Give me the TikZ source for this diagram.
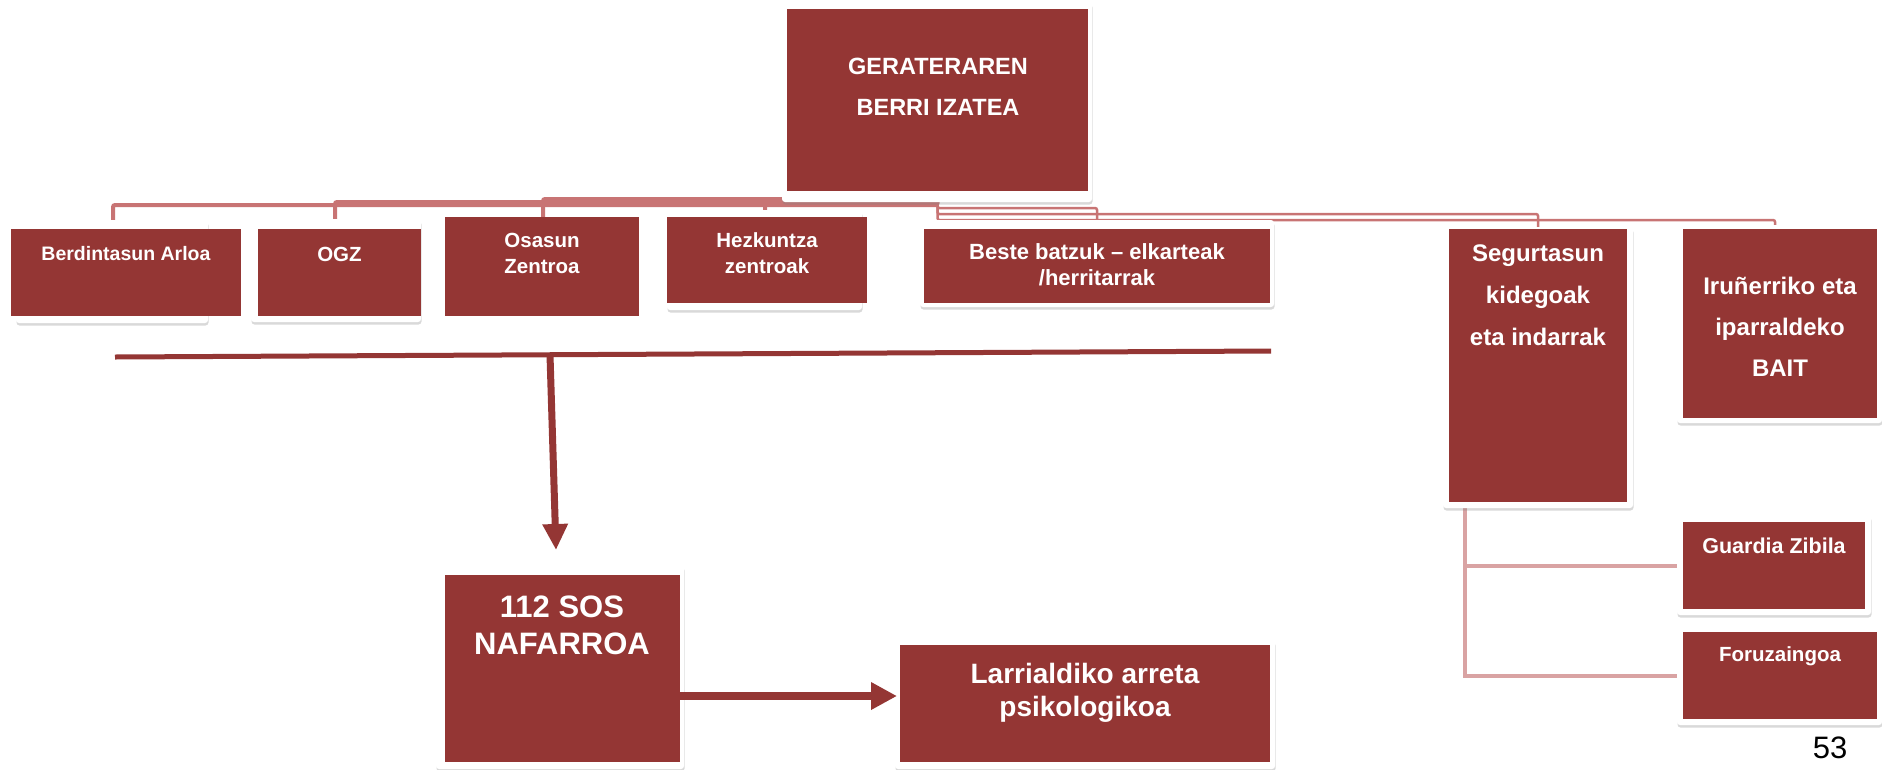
\documentclass[tikz,border=0pt]{standalone}
\usepackage{fontspec}
\setmainfont{Liberation Sans}
\usetikzlibrary{arrows.meta,shadows,calc}
\definecolor{boxred}{HTML}{943634}
\definecolor{connpink}{HTML}{C87474}
\definecolor{connlight}{HTML}{D9A3A3}
\pgfdeclarelayer{connlayer}
\pgfdeclarelayer{framelayer}
\pgfsetlayers{connlayer,framelayer,main}
\begin{document}
\begin{tikzpicture}[x=1pt,y=-1pt,
  redbox/.style={fill=boxred, draw=none, inner sep=0pt, outer sep=0pt},
  framebox/.style={fill=white, rounded corners=3pt, drop shadow={opacity=0.3,shadow xshift=0.5pt,shadow yshift=-2.5pt}},
  lbl/.style={text=white, font=\bfseries\fontsize{20.5}{26}\selectfont, align=center, inner sep=0pt},
  lblbig/.style={text=white, font=\bfseries\fontsize{24}{42}\selectfont, align=center, inner sep=0pt},
  conn/.style={draw=connpink, line width=4pt, rounded corners=2pt},
  connthin/.style={draw=connpink, line width=2.5pt, rounded corners=2pt},
  conntwo/.style={draw=connlight, line width=4pt},
  bigline/.style={draw=boxred, line width=5pt},
  arr/.style={draw=boxred, line width=7pt, -{Triangle[width=24pt,length=26pt]}}
]
\useasboundingbox (0,0) rectangle (1882,769);

% frames (white shadowed backgrounds)
\begin{pgfonlayer}{framelayer}
\path[framebox] (782,2) rectangle (1092,202);
\path[framebox] (16,220) rectangle (208,323);
\path[framebox] (251,219) rectangle (421,322);
\path[framebox] (667,210) rectangle (862,310);
\path[framebox] (920,220) rectangle (1274,307);
\path[framebox] (1443,227) rectangle (1633,508);
\path[framebox] (1677,225) rectangle (1882,423);
\path[framebox] (1677,515) rectangle (1871,615);
\path[framebox] (1677,625) rectangle (1882,725);
\path[framebox] (436,565) rectangle (684,769);
\path[framebox] (895,640) rectangle (1275,769);
\end{pgfonlayer}

% boxes
\node[redbox, minimum width=301pt, minimum height=182pt] (top) at (937.5,100) {};
\node[redbox, minimum width=230pt, minimum height=87pt] (berd) at (126,272.5) {};
\node[redbox, minimum width=163pt, minimum height=87pt] (ogz) at (339.5,272.5) {};
\node[redbox, minimum width=194pt, minimum height=99pt] (osa) at (542,266.5) {};
\node[redbox, minimum width=200pt, minimum height=86pt] (hez) at (767,260) {};
\node[redbox, minimum width=346pt, minimum height=74pt] (beste) at (1097,266) {};
\node[redbox, minimum width=178pt, minimum height=273pt] (seg) at (1538,365.5) {};
\node[redbox, minimum width=194pt, minimum height=189pt] (iru) at (1780,323.5) {};
\node[redbox, minimum width=182pt, minimum height=87pt] (guard) at (1774,565.5) {};
\node[redbox, minimum width=194pt, minimum height=87pt] (foru) at (1780,675.5) {};
\node[redbox, minimum width=235pt, minimum height=187pt] (sos) at (562.5,668.5) {};
\node[redbox, minimum width=370pt, minimum height=117pt] (larr) at (1085,703.5) {};

% labels
\node[lbl, font=\bfseries\fontsize{23.5}{41}\selectfont] (ttop) at (938,87) {GERATERAREN\\BERRI IZATEA};
\node[lbl, font=\bfseries\fontsize{19.5}{26}\selectfont] (tberd) at (126,254) {Berdintasun Arloa};
\node[lbl] (togz) at (339.5,254) {OGZ};
\node[lbl] (tosa) at (542,253) {Osasun\\Zentroa};
\node[lbl] (thez) at (767,253) {Hezkuntza\\zentroak};
\node[lbl, font=\bfseries\fontsize{22}{26}\selectfont] (tbeste) at (1097,265) {Beste batzuk – elkarteak\\/herritarrak};
\node[lblbig] (tseg) at (1538,295) {Segurtasun\\kidegoak\\eta indarrak};
\node[lblbig, font=\bfseries\fontsize{24}{41}\selectfont] (tiru) at (1780,327) {Iruñerriko eta\\iparraldeko\\BAIT};
\node[lbl, font=\bfseries\fontsize{21.5}{26}\selectfont] (tguard) at (1774,546) {Guardia Zibila};
\node[lbl] (tforu) at (1780,656) {Foruzaingoa};
\node[lbl, font=\bfseries\fontsize{31}{37}\selectfont] (tsos) at (562,625) {112 SOS\\NAFARROA};
\node[lbl, font=\bfseries\fontsize{28}{33}\selectfont] (tlarr) at (1085,693) {Larrialdiko arreta\\psikologikoa};
\node[font=\fontsize{31}{31}\selectfont, inner sep=0pt] (pg) at (1830,748) {53};

% org connectors
\begin{pgfonlayer}{connlayer}
\draw[conn] (top.south) -- (top.south |- 0,205) -| ([xshift=-13pt]berd.north);
\draw[conn] (top.south) -- (top.south |- 0,202) -| ([xshift=-4.5pt]ogz.north);
\draw[conn] (top.south) -- (top.south |- 0,199) -| ([xshift=1pt]osa.north);
\draw[conn] (top.south) -- (top.south |- 0,201) -| ([xshift=-2pt]hez.north);
\draw[connthin] (top.south) -- (top.south |- 0,208) -| (beste.north);
\draw[connthin] (top.south) -- (top.south |- 0,214) -| (seg.north);
\draw[connthin] (top.south) -- (top.south |- 0,220) -| ([xshift=-5pt]iru.north);
\draw[conntwo] ([xshift=16pt]seg.south west) |- (guard.west);
\draw[conntwo] ([xshift=16pt]seg.south west) |- (foru.west);
\end{pgfonlayer}

% dark red line and arrows
\coordinate (hl) at (115,357);
\coordinate (hr) at (1271,351);
\draw[bigline] (hl) -- (hr);
\coordinate (dstart) at (550,355);
\coordinate (dtip) at (556,550);
\draw[arr] (dstart) -- (dtip);
\coordinate (htip) at (897,696);
\draw[arr, line width=8pt, -{Triangle[width=26pt,length=26pt]}] (sos.east |- htip) -- (htip);
\end{tikzpicture}
\end{document}
